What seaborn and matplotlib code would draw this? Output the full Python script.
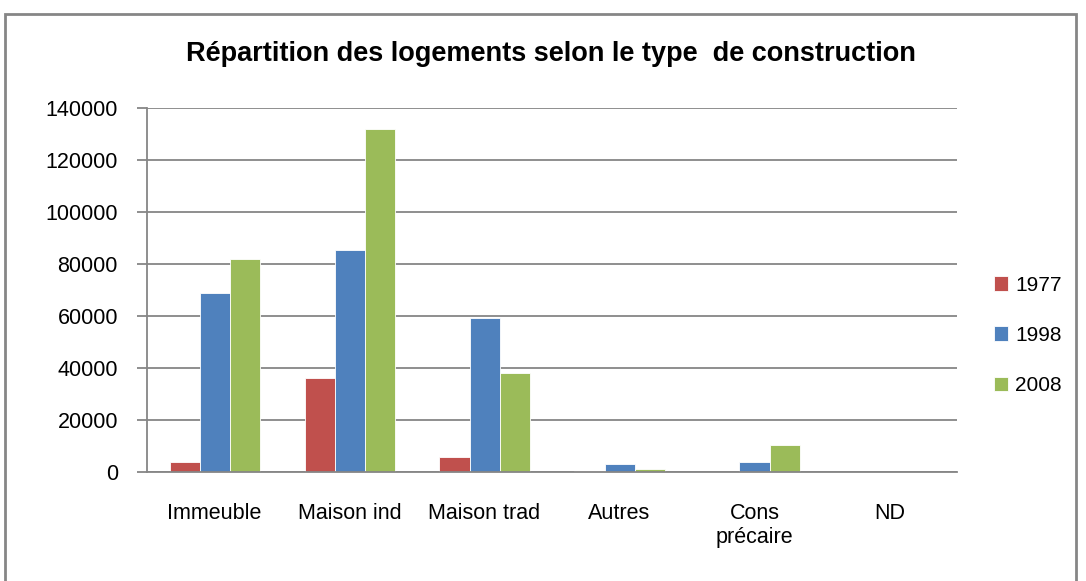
import matplotlib
matplotlib.use('Agg')
import matplotlib.pyplot as plt
import seaborn as sns
import pandas as pd
from matplotlib.patches import Rectangle

# Données
categories = ['Immeuble', 'Maison ind', 'Maison trad', 'Autres', 'Cons\nprécaire', 'ND']
annees = ['1977', '1998', '2008']
val_1977 = [4000, 36000, 5800, 400, 0, 0]
val_1998 = [69000, 85500, 59200, 3100, 3700, 0]
val_2008 = [82000, 132000, 38000, 1300, 10400, 0]
couleurs = ['#C0504D', '#4F81BD', '#9BBB59']

rows = []
for annee, vals in zip(annees, [val_1977, val_1998, val_2008]):
    for cat, v in zip(categories, vals):
        rows.append({'type': cat, 'annee': annee, 'logements': v})
df = pd.DataFrame(rows)

sns.set_theme(style='white')
plt.rcParams['font.family'] = ['Liberation Sans', 'DejaVu Sans']
plt.rcParams['text.color'] = 'black'

fig = plt.figure(figsize=(10.86, 5.81), dpi=100)
ax = fig.add_axes([0.1354, 0.1876, 0.7458, 0.6265])

sns.barplot(data=df, x='type', y='logements', hue='annee', order=categories,
            hue_order=annees, palette=couleurs, width=0.667, ax=ax,
            edgecolor='white', linewidth=0.6, saturation=1)

ax.set_ylim(0, 140000)
ax.set_xlim(-0.5, len(categories) - 0.5)
ax.set_yticks(range(0, 140001, 20000))
ax.yaxis.grid(True, color='#868686', linewidth=1.3)
ax.set_axisbelow(True)
ax.set_xlabel('')
ax.set_ylabel('')

for s in ['top', 'right']:
    ax.spines[s].set_visible(False)
for s in ['left', 'bottom']:
    ax.spines[s].set_color('#868686')
    ax.spines[s].set_linewidth(1.3)

# graduations aux limites des catégories (style Excel)
ax.set_xticks([i - 0.5 for i in range(len(categories) + 1)], minor=True)
ax.tick_params(axis='x', which='minor', length=8, color='#868686', width=1.3, direction='out')
ax.tick_params(axis='x', which='major', length=0, pad=22, labelsize=15.5, labelcolor='black')
ax.tick_params(axis='y', which='major', length=7, color='#868686', width=1.3,
               direction='out', left=True, pad=14, labelsize=15.5, labelcolor='black')

leg = ax.legend(loc='center left', bbox_to_anchor=(1.022, 0.375), frameon=False,
                fontsize=15, handlelength=0.7, handleheight=0.7,
                handletextpad=0.35, labelspacing=1.5)
for t in leg.get_texts():
    t.set_color('black')

fig.text(0.507, 0.907, 'Répartition des logements selon le type  de construction',
         ha='center', va='center', fontsize=19.5, fontweight='bold', color='black')

# cadre gris autour du graphique
fig.patches.append(Rectangle((5 / 1086, -0.05), 1071 / 1086, 1 - 14 / 581 + 0.05,
                             transform=fig.transFigure, fill=False,
                             edgecolor='#868686', linewidth=2))

fig.savefig('out.png', dpi=100, facecolor='white')
